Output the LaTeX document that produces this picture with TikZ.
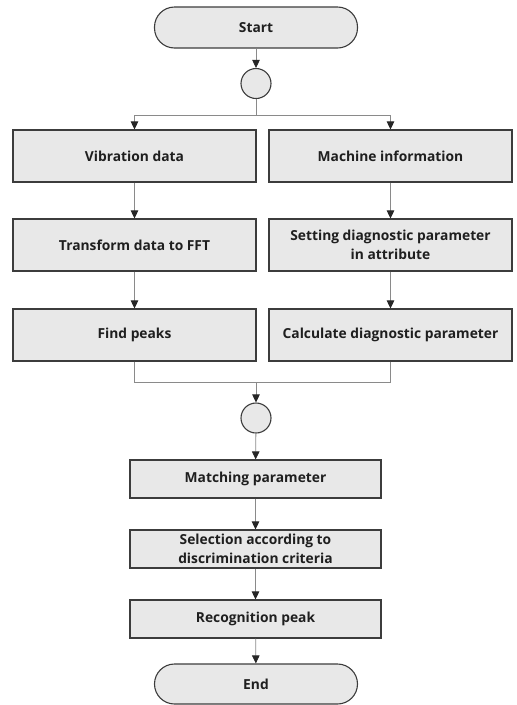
\documentclass[tikz,border=0pt]{standalone}
\usepackage{fontspec}
\setmainfont{Open Sans}
\usetikzlibrary{arrows.meta,calc}
\definecolor{boxfill}{HTML}{E8E8E8}
\definecolor{boxline}{HTML}{3C3C3C}
\definecolor{conn}{HTML}{8A8A8A}
\begin{document}
\begin{tikzpicture}[x=1pt,y=-1pt,
  base/.style={draw=boxline,fill=boxfill,line width=1.1pt,font=\fontsize{13.8}{19}\selectfont\bfseries,align=center,inner sep=0pt,text=black!88},
  proc/.style={base,rectangle,minimum width=243pt,minimum height=52pt},
  proc2/.style={base,rectangle,minimum width=251pt,minimum height=38pt},
  term/.style={base,rectangle,rounded corners=20pt,minimum width=203pt,minimum height=41pt},
  junc/.style={base,circle,minimum size=30pt},
  conn/.style={draw=conn,line width=0.8pt},
  arr/.style={conn,-{Triangle[length=8pt,width=7.5pt,color=black!85]}}]
\useasboundingbox (0,0) rectangle (517,705);
\node[term] (start) at (256,27.5) {Start};
\node[junc] (c1) at (256,83.5) {};
\node[proc] (vib) at (134.5,156) {Vibration data};
\node[proc] (mach) at (390.5,156) {Machine information};
\node[proc] (trans) at (134.5,245) {Transform data to FFT};
\node[proc] (set) at (390.5,245) {Setting diagnostic parameter\\in attribute};
\node[proc] (find) at (134.5,335) {Find peaks};
\node[proc] (calc) at (390.5,335) {Calculate diagnostic parameter};
\node[junc] (c2) at (256,418) {};
\node[proc2] (match) at (255.5,479) {Matching parameter};
\node[proc2] (sel) at (255.5,549) {Selection according to\\discrimination criteria};
\node[proc2] (rec) at (255.5,619) {Recognition peak};
\node[term,minimum height=40pt] (end) at (256,684) {End};
\coordinate (split) at (256,115);
\coordinate (merge) at (256,382);
\draw[arr] (start) -- (c1);
\draw[conn] (c1) -- (split);
\draw[arr] (split) -| (vib);
\draw[arr] (split) -| (mach);
\draw[arr] (vib) -- (trans);
\draw[arr] (mach) -- (set);
\draw[arr] (trans) -- (find);
\draw[arr] (set) -- (calc);
\draw[conn] (find) |- (merge);
\draw[conn] (calc) |- (merge);
\draw[arr] (merge) -- (c2);
\draw[arr] (c2) -- (match);
\draw[arr] (match) -- (sel);
\draw[arr] (sel) -- (rec);
\draw[arr] (rec) -- (end);
\end{tikzpicture}
\end{document}
